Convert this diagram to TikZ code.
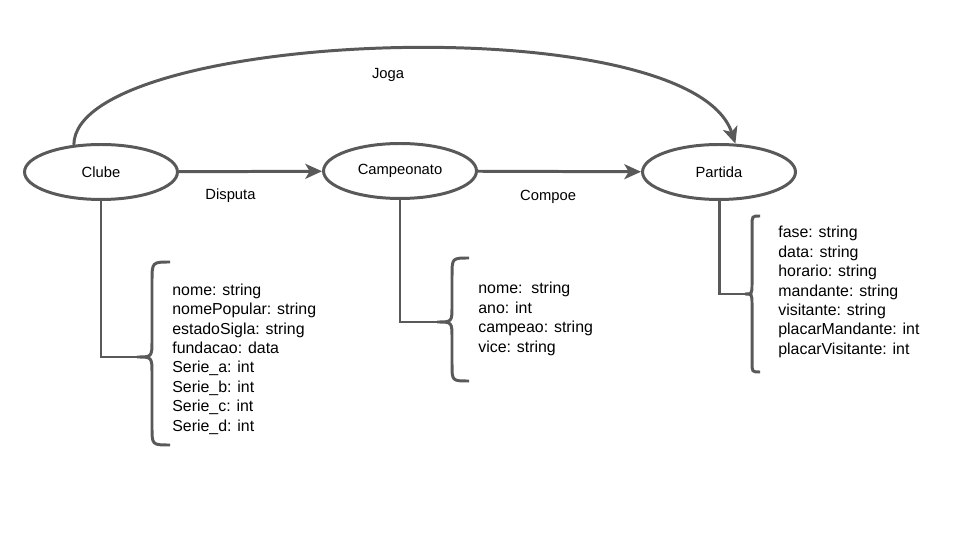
\documentclass[tikz,border=0pt]{standalone}
\usepackage{fontspec}
\setmainfont{Liberation Sans}
\usepackage{tikz}
\usetikzlibrary{arrows.meta}
\usetikzlibrary{shapes}
\usetikzlibrary{positioning}
\definecolor{linha}{HTML}{595959}

\begin{document}
\begin{tikzpicture}[x=0.02cm, y=-0.02cm]
            \tikzset{entidade/.style={ellipse, draw=linha, line width=1.7pt, minimum width=3.06cm, minimum height=1.1cm, font=\fontsize{8.4}{10}\selectfont},
                    rotulo/.style={font=\fontsize{8.4}{10}\selectfont},
                    atributos/.style={anchor=west, align=left, inner sep=0pt, font=\fontsize{9.05}{11.05}\selectfont},
                    linha/.style={draw=linha, line width=1.7pt},
                    >={Stealth[length=9.5pt, width=8.5pt, inset=2.5pt]},
                    every edge/.style={draw=linha, line width=1.7pt}}
            \useasboundingbox (0,0) rectangle (960,540);
            % entidades
            \node[entidade] (1) at (101, 172) {Clube};
            \node[entidade] (2) at (400, 171) {Campeonato};
            \node[entidade] (3) at (719, 172) {Partida};
            % relacionamentos
            \path [->] (1) edge node[rotulo, pos=0.36, yshift=-0.48cm] {Disputa} (2);
            \path [->] (2) edge node[rotulo, pos=0.43, yshift=-0.5cm] {Compoe} (3);
            \draw [->, linha] (1.135) .. controls (75, 30) and (690, 5) .. (3.60)
                node[rotulo, midway, yshift=-0.52cm] {Joga};
            % chaves
            \coordinate (t1) at (137, 357);
            \coordinate (t2) at (437, 322);
            \coordinate (t3) at (745, 294);
            \draw [linha] (170, 262) .. controls (152, 262) .. (152, 282) -- (152, 340)
                .. controls (152, 357) .. (t1) .. controls (152, 357) .. (152, 374) -- (152, 427)
                .. controls (152, 445) .. (170, 445);
            \draw [linha] (469, 258) .. controls (452, 258) .. (452, 276) -- (452, 306)
                .. controls (452, 322) .. (t2) .. controls (452, 322) .. (452, 338) -- (452, 364)
                .. controls (452, 381) .. (469, 381);
            \draw [linha] (760, 216) .. controls (752, 216) .. (752, 226) -- (752, 284)
                .. controls (752, 294) .. (t3) .. controls (752, 294) .. (752, 304) -- (752, 362)
                .. controls (752, 372) .. (760, 372);
            \draw [linha] (1.south) |- (t1);
            \draw [linha] (2.south) |- (t2);
            \draw [linha] (3.south) |- (t3);
            % atributos
            \node[atributos] (a1) at (172, 359) {nome: string\\nomePopular: string\\estadoSigla: string\\fundacao: data\\Serie\_a: int\\Serie\_b: int\\Serie\_c: int\\Serie\_d: int};
            \node[atributos] (a2) at (478, 319) {nome:\ \ string\\ano: int\\campeao: string\\vice: string};
            \node[atributos] (a3) at (778, 292) {fase: string\\data: string\\horario: string\\mandante: string\\visitante: string\\placarMandante: int\\placarVisitante: int};
        \end{tikzpicture}
\end{document}
